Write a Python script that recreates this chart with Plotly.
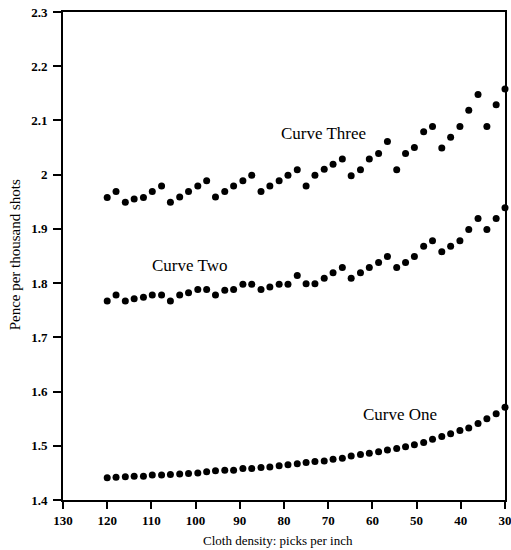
import plotly.graph_objects as go

# Cloth density (picks per inch), 45 evenly spaced readings from 120 down to 30
density = [120.0, 118.0, 115.9, 113.9, 111.8, 109.8, 107.7, 105.7, 103.6, 101.6,
           99.5, 97.5, 95.5, 93.4, 91.4, 89.3, 87.3, 85.2, 83.2, 81.1,
           79.1, 77.0, 75.0, 73.0, 70.9, 68.9, 66.8, 64.8, 62.7, 60.7,
           58.6, 56.6, 54.5, 52.5, 50.5, 48.4, 46.4, 44.3, 42.3, 40.2,
           38.2, 36.1, 34.1, 32.0, 30.0]

curve_one = [1.441, 1.442, 1.443, 1.444, 1.444, 1.446, 1.446, 1.447, 1.448, 1.449,
             1.450, 1.452, 1.454, 1.455, 1.455, 1.458, 1.458, 1.460, 1.461, 1.463,
             1.465, 1.467, 1.469, 1.471, 1.472, 1.475, 1.477, 1.481, 1.484, 1.486,
             1.489, 1.492, 1.495, 1.498, 1.502, 1.506, 1.512, 1.517, 1.522, 1.528,
             1.533, 1.541, 1.550, 1.559, 1.571]

curve_two = [1.767, 1.778, 1.767, 1.771, 1.774, 1.778, 1.778, 1.767, 1.778, 1.782,
             1.788, 1.788, 1.778, 1.787, 1.788, 1.798, 1.798, 1.788, 1.793, 1.798,
             1.798, 1.814, 1.799, 1.799, 1.809, 1.819, 1.829, 1.809, 1.819, 1.829,
             1.838, 1.849, 1.829, 1.838, 1.849, 1.868, 1.878, 1.858, 1.868, 1.878,
             1.899, 1.919, 1.899, 1.919, 1.939]

curve_three = [1.958, 1.969, 1.949, 1.955, 1.958, 1.969, 1.979, 1.949, 1.959, 1.969,
               1.979, 1.989, 1.959, 1.969, 1.979, 1.989, 1.999, 1.969, 1.979, 1.989,
               1.999, 2.009, 1.979, 1.999, 2.010, 2.019, 2.029, 1.998, 2.009, 2.029,
               2.039, 2.061, 2.009, 2.039, 2.050, 2.079, 2.089, 2.049, 2.069, 2.089,
               2.119, 2.148, 2.089, 2.129, 2.158]

labels = ["Curve One", "Curve Two", "Curve Three"]
label_x = [53.7, 101.3, 71.1]
label_y = [1.557, 1.832, 2.076]

x_ticks = [130, 120, 110, 100, 90, 80, 70, 60, 50, 40, 30]
y_ticks = [1.4, 1.5, 1.6, 1.7, 1.8, 1.9, 2.0, 2.1, 2.2, 2.3]
y_tick_text = ["1.4", "1.5", "1.6", "1.7", "1.8", "1.9", "2", "2.1", "2.2", "2.3"]

x_title = "Cloth density: picks per inch"
y_title = "Pence per thousand shots"

FONT = "Liberation Serif"

fig = go.Figure()
for ys in (curve_one, curve_two, curve_three):
    fig.add_trace(go.Scatter(
        x=density, y=ys, mode="markers",
        marker=dict(color="black", size=7),
        cliponaxis=False, showlegend=False, hoverinfo="x+y",
    ))

for t, lx, ly in zip(labels, label_x, label_y):
    fig.add_annotation(x=lx, y=ly, text=t, showarrow=False,
                       font=dict(family=FONT, size=17, color="black"))

# axis titles placed as paper annotations
fig.add_annotation(xref="paper", yref="paper", x=0.486, y=-0.082,
                   xanchor="center", yanchor="middle", text=x_title, showarrow=False,
                   font=dict(family=FONT, size=13, color="black"))
fig.add_annotation(xref="paper", yref="paper", x=-0.109, y=0.503,
                   xanchor="center", yanchor="middle", text=y_title, showarrow=False,
                   textangle=-90, font=dict(family=FONT, size=15, color="black"))

fig.update_layout(
    width=511, height=550,
    margin=dict(l=63, r=6, t=12, b=50),
    paper_bgcolor="white", plot_bgcolor="white",
    font=dict(family=FONT, color="black", size=12),
)
fig.update_xaxes(
    range=[130, 30], tickvals=x_ticks, ticktext=[str(v) for v in x_ticks],
    automargin=False, ticklabeloverflow="allow",
    showgrid=False, zeroline=False, showline=True, linecolor="black", linewidth=2,
    mirror=True, ticks="outside", ticklen=7, tickwidth=1.5, tickcolor="black",
    tickfont=dict(family=FONT, size=13, color="black", weight="bold"),
)
fig.update_yaxes(
    range=[1.4, 2.3], tickvals=y_ticks, ticktext=y_tick_text,
    automargin=False, ticklabeloverflow="allow", ticklabelstandoff=3,
    showgrid=False, zeroline=False, showline=True, linecolor="black", linewidth=2,
    mirror=True, ticks="outside", ticklen=8, tickwidth=1.5, tickcolor="black",
    tickfont=dict(family=FONT, size=13, color="black", weight="bold"),
)

fig.write_html("out.html", config={"displayModeBar": False},
               post_script="document.body.style.margin='0';document.body.style.overflow='hidden';")
